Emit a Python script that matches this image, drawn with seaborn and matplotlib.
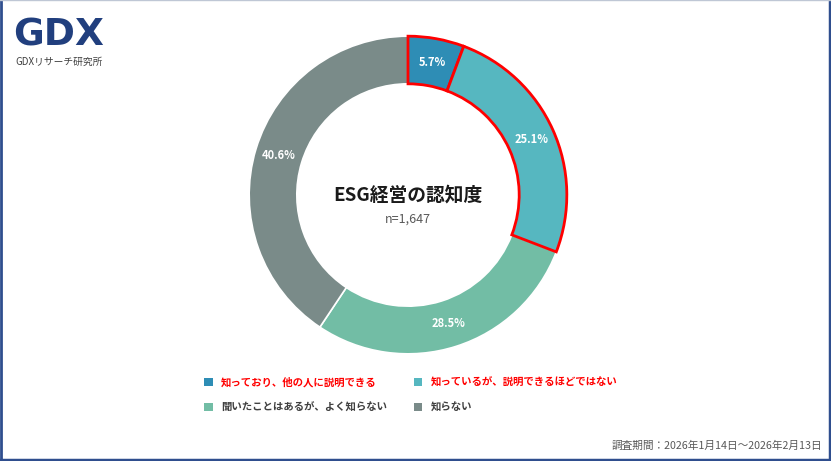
import matplotlib
matplotlib.use("Agg")
import matplotlib.pyplot as plt
import seaborn as sns
from matplotlib.patches import Patch
from matplotlib.lines import Line2D

categories = ["知っており、他の人に説明できる", "知っているが、説明できるほどではない",
              "聞いたことはあるが、よく知らない", "知らない"]
values = [5.7, 25.1, 28.5, 40.6]
pct_labels = ["5.7%", "25.1%", "28.5%", "40.6%"]
colors = ["#2E8DB5", "#56B7C0", "#72BDA5", "#7A8B89"]
highlight = [True, True, False, False]
title = "ESG経営の認知度"
subtitle = "n=1,647"
footer = "調査期間：2026年1月14日～2026年2月13日"

sns.set_theme(style="white")
plt.rcParams['font.family'] = ['Noto Sans CJK JP', 'DejaVu Sans']

fig = plt.figure(figsize=(8.31, 4.61), dpi=100)
cx, cy, r = 408, 195, 162
W, H = 831, 461
ax = fig.add_axes([(cx - r) / W, (H - cy - r) / H, 2 * r / W, 2 * r / H])

lab_iter = iter(pct_labels)
wedges, texts, autotexts = ax.pie(
    values, colors=colors, startangle=90, counterclock=False,
    radius=1.0, wedgeprops=dict(width=0.30, edgecolor="white", linewidth=1.2),
    autopct=lambda p: next(lab_iter), pctdistance=0.85,
    textprops=dict(color="white", fontsize=8, fontweight="bold"))
for w, h in zip(wedges, highlight):
    if h:
        w.set_edgecolor("#FF0000")
        w.set_linewidth(2.0)
        w.set_zorder(3)
for t in autotexts:
    t.set_zorder(4)
ax.set_xlim(-1.02, 1.02)
ax.set_ylim(-1.02, 1.02)
ax.set_aspect("equal")

ax.text(0, 0.0, title, ha="center", va="center", fontsize=13.5,
        fontweight="bold", color="#1a1a1a")
ax.text(0, -0.15, subtitle, ha="center", va="center", fontsize=9, color="#595959")

# legend
order = [0, 2, 1, 3]
handles = [Patch(facecolor=colors[i], edgecolor="none") for i in order]
labels = [categories[i] for i in order]
leg = fig.legend(handles, labels, ncol=2, loc="upper left",
                 bbox_to_anchor=(195 / W, 1 - 368 / H), frameon=False,
                 prop=dict(size=7.5, weight="bold"), handlelength=0.8,
                 handleheight=0.8, handletextpad=0.8, columnspacing=2.6,
                 labelspacing=1.4)
for txt, i in zip(leg.get_texts(), order):
    txt.set_color("#FF0000" if highlight[i] else "#404040")

# footer
fig.text(822 / W, 1 - 446 / H, footer, ha="right", va="center", fontsize=7.7,
         color="#595959")

# logo
fig.text(13 / W, 1 - 35 / H, "GDX", ha="left", va="center", fontsize=27,
         fontweight="bold", color="#213F7E", family=["DejaVu Sans"])
fig.text(15 / W, 1 - 62 / H, "GDXリサーチ研究所", ha="left", va="center",
         fontsize=7, color="#404040")

# frame
navy = "#2F4E8E"
fig.add_artist(Line2D([0.5 / W, 0.5 / W], [0, 1], transform=fig.transFigure,
                      color=navy, lw=2))
fig.add_artist(Line2D([1 - 1.5 / W, 1 - 1.5 / W], [0, 1], transform=fig.transFigure,
                      color=navy, lw=2.5))
fig.add_artist(Line2D([0, 1], [1.5 / H, 1.5 / H], transform=fig.transFigure,
                      color=navy, lw=2.5))
fig.add_artist(Line2D([0, 1], [1 - 0.5 / H, 1 - 0.5 / H], transform=fig.transFigure,
                      color="#BFC7D5", lw=1))

fig.savefig("out.png", dpi=100, facecolor="white")
